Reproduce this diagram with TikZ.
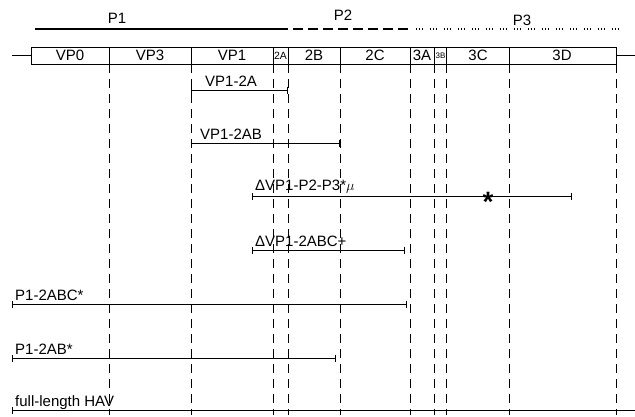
\documentclass[tikz,border=0pt]{standalone}
\usepackage{fontspec}
\setmainfont{Liberation Sans}
\usetikzlibrary{arrows.meta}
\tikzset{construct/.style={line width=1pt,{Bar[width=7pt,line width=0.8pt]}-{Bar[width=7pt,line width=0.8pt]}}}
\tikzset{guide/.style={line width=1pt,dash pattern=on 9pt off 6pt}}
\newcommand{\smallseg}[1]{{\fontsize{10.5}{11}\selectfont #1}}

\begin{document}
\begin{tikzpicture}[x=1pt,y=-1pt,font=\fontsize{15}{17}\selectfont]
				\useasboundingbox (0,0) rectangle (635,416);
				% polyprotein regions
				\draw[line width=1.4pt] (35,29) -- (288,29);
				\draw[line width=1.4pt,dash pattern=on 10pt off 5pt] (293,29) -- (412,29);
				\draw[line width=1.2pt,dash pattern=on 1pt off 2pt on 1pt off 2pt on 1pt off 7pt] (416,29) -- (622,29);
				\node (p1) at (117,18){P1};
				\node (p2) at (343,15){P2};
				\node (p3) at (522,20){P3};
				% genome
				\draw[line width=0.8pt] (12,55) -- (31,55);
				\draw[line width=0.8pt] (616,55) -- (635,55);
				\draw[line width=0.8pt] (31,47) rectangle (616,64);
				\foreach \x in {109,191,273,288,340,410,434,446,509}
					\draw[line width=0.8pt] (\x,47) -- (\x,64);
				\foreach \x in {109,191,273,288,340,410,434,446,509,616}
					\draw[guide] (\x,64) -- (\x,415);
				\node (vp0) at (70,55.5){VP0};
				\node (vp3) at (150,55.5){VP3};
				\node (vp1) at (232,55.5){VP1};
				\node[inner sep=0pt] (s2a) at (280.5,55.5){\smallseg{2A}};
				\node (s2b) at (314,55.5){2B};
				\node (s2c) at (375,55.5){2C};
				\node (s3a) at (422,55.5){3A};
				\node[inner sep=0pt] (s3b) at (440.5,55.5){{\fontsize{8}{9}\selectfont 3B}};
				\node (s3c) at (478,55.5){3C};
				\node (s3d) at (562,55.5){3D};
				% constructs
				\draw[construct] (191,90) -- (288,90);
				\node[anchor=base west,inner sep=0pt] (c1) at (205,86){VP1-2A};
				\draw[construct] (191,143) -- (340,143);
				\node[anchor=base west,inner sep=0pt] (c2) at (200,139){VP1-2AB};
				\draw[construct] (252,196) -- (572,196);
				\node[anchor=base west,inner sep=0pt] (c3) at (255,190){ΔVP1-P2-P3*$\mu$};
				\node[inner sep=0pt,yshift=-6pt] (mut) at (488,196){\fontsize{28}{28}\selectfont\textbf{*}};
				\draw[construct] (252,250) -- (405,250);
				\node[anchor=base west,inner sep=0pt] (c4) at (255,246){ΔVP1-2ABC+};
				\draw[construct] (12,304) -- (407,304);
				\node[anchor=base west,inner sep=0pt] (c5) at (15,300){P1-2ABC*};
				\draw[construct] (12,358) -- (336,358);
				\node[anchor=base west,inner sep=0pt] (c6) at (15,354){P1-2AB*};
				\draw[construct] (12,410) -- (640,410);
				\node[anchor=base west,inner sep=0pt] (c7) at (15,406){full-length HAV};
\end{tikzpicture}
\end{document}
